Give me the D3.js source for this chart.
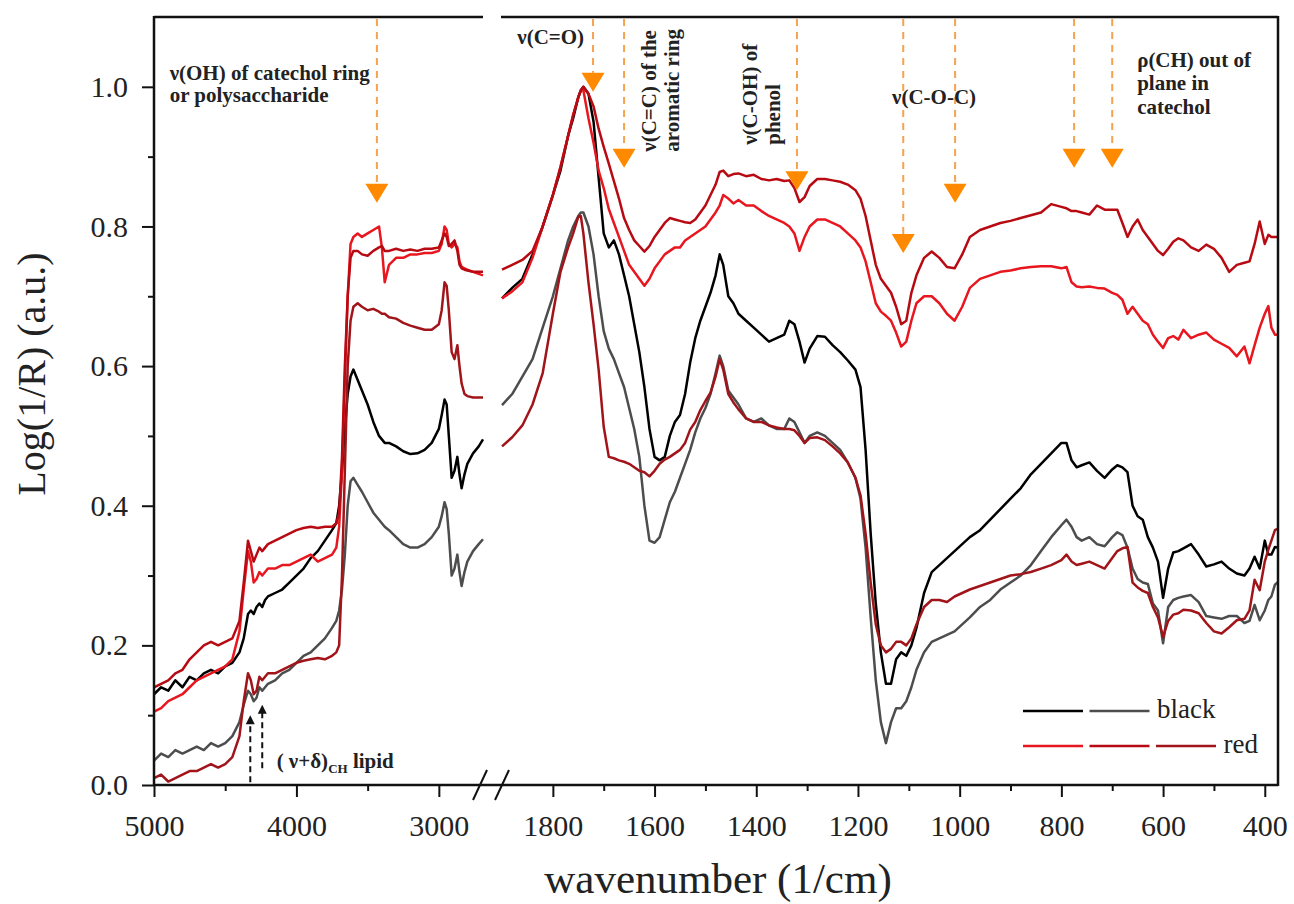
<!DOCTYPE html>
<html>
<head>
<meta charset="utf-8">
<script src="https://cdn.jsdelivr.net/npm/d3@7/dist/d3.min.js"></script>
<style>
  body { margin: 0; background: #fff; }
  svg { display: block; }
</style>
</head>
<body>
<div id="my_dataviz"></div>
<script>
// wavenumber grids for the two halves of the broken x axis
var wnLeft = [5000, 4950, 4900, 4850, 4800, 4750, 4700, 4650, 4600, 4550,
  4500, 4450, 4400, 4370, 4340, 4320, 4300, 4280, 4260, 4240,
  4220, 4200, 4150, 4100, 4050, 4000, 3950, 3900, 3850, 3800,
  3750, 3720, 3700, 3680, 3660, 3640, 3620, 3600, 3570, 3540,
  3500, 3460, 3420, 3400, 3380, 3350, 3300, 3250, 3200, 3150,
  3100, 3050, 3000, 2980, 2960, 2945, 2930, 2910, 2890, 2870,
  2855, 2840, 2820, 2800, 2760, 2720, 2690];

var wnRight = [1900, 1880, 1860, 1840, 1820, 1800, 1785, 1770, 1760, 1750,
  1745, 1740, 1730, 1720, 1710, 1700, 1690, 1680, 1670, 1660,
  1650, 1640, 1630, 1620, 1610, 1600, 1590, 1580, 1570, 1560,
  1550, 1540, 1530, 1520, 1510, 1500, 1490, 1480, 1472, 1465,
  1455, 1445, 1435, 1420, 1405, 1390, 1375, 1360, 1345, 1335,
  1325, 1315, 1305, 1295, 1280, 1265, 1250, 1235, 1220, 1205,
  1195, 1185, 1175, 1165, 1155, 1145, 1135, 1125, 1115, 1105,
  1095, 1085, 1070, 1055, 1040, 1025, 1010, 995, 980, 960,
  940, 920, 900, 880, 860, 840, 820, 800, 790, 780,
  770, 760, 745, 730, 715, 700, 690, 680, 670, 660,
  650, 640, 630, 620, 610, 600, 590, 580, 570, 560,
  545, 530, 515, 500, 485, 470, 455, 440, 430, 420,
  410, 400, 393, 387, 380, 375];

// black samples
var black1Left = [0.13, 0.14, 0.135, 0.15, 0.14, 0.155, 0.15, 0.16, 0.165, 0.16,
  0.17, 0.175, 0.19, 0.21, 0.245, 0.25, 0.245, 0.255, 0.26, 0.255,
  0.265, 0.27, 0.275, 0.28, 0.29, 0.30, 0.31, 0.325, 0.335, 0.35,
  0.365, 0.375, 0.40, 0.45, 0.51, 0.56, 0.585, 0.595, 0.58, 0.565,
  0.545, 0.52, 0.50, 0.495, 0.49, 0.49, 0.485, 0.478, 0.474, 0.475,
  0.48, 0.49, 0.51, 0.53, 0.552, 0.545, 0.50, 0.44, 0.45, 0.47,
  0.445, 0.425, 0.445, 0.46, 0.475, 0.485, 0.495];
var black1Right = [0.697, 0.712, 0.725, 0.76, 0.80, 0.845, 0.88, 0.93, 0.955, 0.985,
  0.995, 1.0, 0.99, 0.95, 0.87, 0.79, 0.77, 0.78, 0.76, 0.73,
  0.70, 0.66, 0.62, 0.57, 0.51, 0.47, 0.465, 0.47, 0.50, 0.52,
  0.53, 0.56, 0.605, 0.64, 0.665, 0.685, 0.705, 0.73, 0.76, 0.745,
  0.70, 0.69, 0.675, 0.665, 0.655, 0.645, 0.635, 0.64, 0.645, 0.665,
  0.66, 0.635, 0.605, 0.625, 0.643, 0.642, 0.63, 0.62, 0.608, 0.595,
  0.57, 0.48, 0.36, 0.26, 0.19, 0.145, 0.145, 0.18, 0.19, 0.185,
  0.20, 0.225, 0.275, 0.305, 0.315, 0.325, 0.335, 0.345, 0.355, 0.365,
  0.38, 0.395, 0.41, 0.425, 0.445, 0.46, 0.475, 0.49, 0.49, 0.465,
  0.455, 0.458, 0.462, 0.45, 0.44, 0.452, 0.458, 0.455, 0.448, 0.40,
  0.385, 0.38, 0.355, 0.34, 0.32, 0.268, 0.31, 0.333, 0.335, 0.339,
  0.345, 0.33, 0.313, 0.316, 0.32, 0.31, 0.303, 0.30, 0.31, 0.327,
  0.31, 0.35, 0.33, 0.33, 0.341, 0.34];

var black2Left = [0.035, 0.045, 0.04, 0.05, 0.045, 0.05, 0.055, 0.05, 0.06, 0.055,
  0.06, 0.07, 0.09, 0.115, 0.135, 0.13, 0.12, 0.125, 0.14, 0.135,
  0.14, 0.145, 0.15, 0.16, 0.165, 0.175, 0.185, 0.19, 0.20, 0.21,
  0.225, 0.235, 0.25, 0.28, 0.33, 0.40, 0.435, 0.44, 0.43, 0.42,
  0.405, 0.39, 0.38, 0.375, 0.37, 0.365, 0.355, 0.345, 0.34, 0.34,
  0.345, 0.355, 0.37, 0.385, 0.405, 0.395, 0.36, 0.30, 0.31, 0.33,
  0.305, 0.285, 0.305, 0.32, 0.335, 0.345, 0.352];
var black2Right = [0.544, 0.56, 0.585, 0.61, 0.655, 0.70, 0.74, 0.78, 0.80, 0.815,
  0.82, 0.82, 0.80, 0.76, 0.70, 0.65, 0.625, 0.61, 0.59, 0.57,
  0.54, 0.51, 0.47, 0.40, 0.35, 0.347, 0.355, 0.38, 0.405, 0.42,
  0.44, 0.46, 0.48, 0.505, 0.525, 0.54, 0.56, 0.59, 0.615, 0.60,
  0.565, 0.555, 0.545, 0.525, 0.52, 0.525, 0.515, 0.51, 0.51, 0.525,
  0.52, 0.505, 0.49, 0.50, 0.505, 0.50, 0.49, 0.48, 0.462, 0.44,
  0.41, 0.34, 0.24, 0.15, 0.09, 0.06, 0.09, 0.11, 0.11, 0.12,
  0.14, 0.165, 0.19, 0.205, 0.21, 0.215, 0.22, 0.23, 0.24, 0.255,
  0.265, 0.28, 0.29, 0.30, 0.315, 0.335, 0.355, 0.372, 0.38, 0.37,
  0.355, 0.35, 0.355, 0.345, 0.342, 0.355, 0.362, 0.358, 0.34, 0.31,
  0.295, 0.29, 0.288, 0.26, 0.25, 0.203, 0.255, 0.265, 0.268, 0.27,
  0.272, 0.262, 0.242, 0.24, 0.238, 0.242, 0.242, 0.232, 0.235, 0.258,
  0.236, 0.25, 0.265, 0.27, 0.287, 0.29];

// red samples
var red1Left = [0.105, 0.11, 0.12, 0.125, 0.13, 0.14, 0.15, 0.155, 0.16, 0.165,
  0.17, 0.18, 0.22, 0.28, 0.335, 0.32, 0.29, 0.295, 0.305, 0.30,
  0.305, 0.31, 0.31, 0.315, 0.315, 0.32, 0.325, 0.33, 0.32, 0.325,
  0.33, 0.34, 0.37, 0.45, 0.58, 0.70, 0.775, 0.785, 0.79, 0.785,
  0.79, 0.795, 0.80, 0.77, 0.72, 0.745, 0.755, 0.755, 0.76, 0.76,
  0.762, 0.762, 0.765, 0.775, 0.80, 0.795, 0.775, 0.77, 0.775, 0.77,
  0.75, 0.742, 0.74, 0.738, 0.735, 0.732, 0.73];
var red1Right = [0.697, 0.707, 0.72, 0.755, 0.80, 0.845, 0.885, 0.93, 0.96, 0.985,
  0.995, 0.995, 0.955, 0.92, 0.88, 0.855, 0.825, 0.805, 0.785, 0.765,
  0.745, 0.735, 0.725, 0.715, 0.725, 0.74, 0.75, 0.76, 0.765, 0.77,
  0.77, 0.78, 0.785, 0.79, 0.795, 0.80, 0.81, 0.82, 0.83, 0.845,
  0.84, 0.833, 0.838, 0.83, 0.83, 0.822, 0.815, 0.81, 0.805, 0.80,
  0.79, 0.765, 0.785, 0.80, 0.81, 0.81, 0.805, 0.80, 0.79, 0.78,
  0.77, 0.75, 0.72, 0.69, 0.678, 0.672, 0.665, 0.648, 0.628, 0.635,
  0.665, 0.69, 0.70, 0.70, 0.69, 0.675, 0.665, 0.685, 0.712, 0.725,
  0.73, 0.735, 0.737, 0.74, 0.742, 0.743, 0.743, 0.74, 0.742, 0.72,
  0.714, 0.713, 0.714, 0.712, 0.711, 0.705, 0.702, 0.695, 0.675, 0.685,
  0.675, 0.665, 0.66, 0.645, 0.635, 0.626, 0.64, 0.643, 0.638, 0.652,
  0.64, 0.645, 0.648, 0.638, 0.632, 0.626, 0.614, 0.628, 0.604, 0.63,
  0.655, 0.675, 0.686, 0.655, 0.645, 0.645];

var red2Left = [0.14, 0.145, 0.15, 0.16, 0.165, 0.18, 0.19, 0.20, 0.205, 0.20,
  0.205, 0.21, 0.235, 0.29, 0.35, 0.335, 0.32, 0.33, 0.34, 0.335,
  0.34, 0.345, 0.35, 0.355, 0.36, 0.365, 0.368, 0.37, 0.368, 0.37,
  0.37, 0.375, 0.39, 0.47, 0.60, 0.70, 0.755, 0.765, 0.765, 0.76,
  0.758, 0.765, 0.77, 0.772, 0.765, 0.765, 0.768, 0.765, 0.767, 0.765,
  0.768, 0.768, 0.77, 0.78, 0.79, 0.785, 0.772, 0.775, 0.78, 0.765,
  0.745, 0.74, 0.738, 0.737, 0.735, 0.735, 0.735];
var red2Right = [0.738, 0.745, 0.752, 0.765, 0.80, 0.845, 0.885, 0.93, 0.96, 0.985,
  0.995, 1.0, 0.99, 0.972, 0.94, 0.914, 0.89, 0.865, 0.84, 0.812,
  0.795, 0.78, 0.772, 0.764, 0.772, 0.785, 0.795, 0.805, 0.812, 0.81,
  0.808, 0.806, 0.805, 0.81, 0.82, 0.83, 0.845, 0.86, 0.878, 0.88,
  0.872, 0.875, 0.876, 0.872, 0.874, 0.868, 0.866, 0.868, 0.865, 0.866,
  0.855, 0.835, 0.842, 0.858, 0.868, 0.868, 0.866, 0.864, 0.86, 0.852,
  0.84, 0.815, 0.78, 0.745, 0.725, 0.715, 0.705, 0.685, 0.66, 0.665,
  0.705, 0.73, 0.755, 0.764, 0.755, 0.742, 0.74, 0.76, 0.785, 0.795,
  0.80, 0.805, 0.808, 0.812, 0.816, 0.82, 0.832, 0.828, 0.826, 0.822,
  0.822, 0.82, 0.817, 0.83, 0.824, 0.824, 0.824, 0.805, 0.785, 0.80,
  0.81, 0.795, 0.785, 0.775, 0.765, 0.759, 0.768, 0.778, 0.783, 0.78,
  0.77, 0.765, 0.774, 0.768, 0.755, 0.735, 0.745, 0.748, 0.75, 0.775,
  0.807, 0.775, 0.788, 0.785, 0.785, 0.785];

var red3Left = [0.01, 0.015, 0.005, 0.01, 0.015, 0.02, 0.02, 0.025, 0.03, 0.025,
  0.03, 0.04, 0.07, 0.12, 0.16, 0.15, 0.13, 0.135, 0.155, 0.15,
  0.155, 0.16, 0.16, 0.165, 0.17, 0.175, 0.178, 0.18, 0.182, 0.18,
  0.185, 0.19, 0.20, 0.30, 0.45, 0.60, 0.665, 0.685, 0.69, 0.685,
  0.68, 0.682, 0.678, 0.675, 0.675, 0.67, 0.668, 0.662, 0.658, 0.655,
  0.652, 0.652, 0.66, 0.68, 0.72, 0.715, 0.68, 0.62, 0.61, 0.63,
  0.60, 0.575, 0.56, 0.557, 0.555, 0.555, 0.555];
var red3Right = [0.485, 0.498, 0.515, 0.545, 0.59, 0.675, 0.735, 0.77, 0.79, 0.814,
  0.815, 0.79, 0.72, 0.66, 0.595, 0.513, 0.47, 0.468, 0.465, 0.463,
  0.46, 0.455, 0.45, 0.448, 0.442, 0.45, 0.46, 0.466, 0.47, 0.475,
  0.48, 0.49, 0.509, 0.52, 0.537, 0.55, 0.562, 0.585, 0.61, 0.595,
  0.56, 0.548, 0.538, 0.525, 0.52, 0.52, 0.515, 0.512, 0.51, 0.51,
  0.508, 0.50, 0.49, 0.497, 0.498, 0.494, 0.485, 0.475, 0.462, 0.44,
  0.415, 0.36, 0.29, 0.23, 0.20, 0.19, 0.195, 0.205, 0.205, 0.20,
  0.21, 0.23, 0.255, 0.265, 0.265, 0.262, 0.27, 0.275, 0.28, 0.285,
  0.29, 0.295, 0.30, 0.302, 0.305, 0.31, 0.315, 0.322, 0.33, 0.32,
  0.315, 0.317, 0.32, 0.315, 0.31, 0.325, 0.335, 0.339, 0.341, 0.29,
  0.283, 0.278, 0.275, 0.255, 0.24, 0.212, 0.235, 0.244, 0.246, 0.251,
  0.25, 0.246, 0.232, 0.22, 0.217, 0.226, 0.236, 0.238, 0.25, 0.294,
  0.279, 0.32, 0.337, 0.35, 0.365, 0.367];

// tick values
var xTicksLeft = [5000, 4000, 3000];
var xMinorLeft = [4500, 3500];
var xTicksRight = [1800, 1600, 1400, 1200, 1000, 800, 600, 400];
var xMinorRight = [1700, 1500, 1300, 1100, 900, 700, 500];
var yTicks = [0, 0.2, 0.4, 0.6, 0.8, 1.0];
var yMinor = [0.1, 0.3, 0.5, 0.7, 0.9];

// orange band markers: wavenumber and tip height
var bandWn = [3435, 1721, 1660, 1320, 1111, 1009, 775, 700];
var bandTip = [0.834, 0.993, 0.884, 0.852, 0.762, 0.834, 0.884, 0.884];
// black lipid markers
var lipidWn = [4324, 4240];
var lipidTip = [0.10, 0.115];
var lipidBase = [0.004, 0.024];

// set the dimensions and margins of the graph
var W = 1294, H = 904;
var margin = {top: 17, right: 16, bottom: 119, left: 154};
var breakLeft = 483, breakRight = 501;
var plotRight = W - margin.right, plotBottom = H - margin.bottom;

var svg = d3.select("#my_dataviz")
  .append("svg")
    .attr("width", W)
    .attr("height", H);

var xL = d3.scaleLinear().domain([5000, 2690]).range([margin.left, breakLeft]);
var xR = d3.scaleLinear().domain([1902, 374]).range([breakRight, plotRight]);
var y = d3.scaleLinear().domain([0, 1.1]).range([plotBottom, margin.top]);
function xs(w) { return w > 2000 ? xL(w) : xR(w); }

var series = [
  {name: "black1", color: "#000000", left: black1Left, right: black1Right},
  {name: "black2", color: "#4d4d4d", left: black2Left, right: black2Right},
  {name: "red1", color: "#e8161e", left: red1Left, right: red1Right},
  {name: "red2", color: "#b80a12", left: red2Left, right: red2Right},
  {name: "red3", color: "#a0141a", left: red3Left, right: red3Right}
];

var serif = "'Liberation Serif', 'Times New Roman', serif";

// spectra, one path per half
var lineL = d3.line().x(function(d) { return xL(d[0]); }).y(function(d) { return y(d[1]); });
var lineR = d3.line().x(function(d) { return xR(d[0]); }).y(function(d) { return y(d[1]); });

var curves = svg.append("g").attr("class", "curves");
series.forEach(function(s) {
  var pl = wnLeft.map(function(w, i) { return [w, s.left[i]]; }).filter(function(p) { return p[1] != null; });
  var pr = wnRight.map(function(w, i) { return [w, s.right[i]]; }).filter(function(p) { return p[1] != null; });
  curves.append("path").datum(pl)
    .attr("d", lineL).attr("fill", "none").attr("stroke", s.color)
    .attr("stroke-width", 2.5).attr("stroke-linejoin", "round");
  curves.append("path").datum(pr)
    .attr("d", lineR).attr("fill", "none").attr("stroke", s.color)
    .attr("stroke-width", 2.5).attr("stroke-linejoin", "round");
});

// frame
var frame = svg.append("g").attr("stroke", "#111").attr("stroke-width", 2.5).attr("fill", "none");
frame.append("line").attr("x1", margin.left).attr("x2", margin.left).attr("y1", margin.top - 1).attr("y2", plotBottom + 1);
frame.append("line").attr("x1", plotRight).attr("x2", plotRight).attr("y1", margin.top - 1).attr("y2", plotBottom + 1);
frame.append("line").attr("x1", margin.left).attr("x2", plotRight).attr("y1", plotBottom).attr("y2", plotBottom);
frame.append("line").attr("x1", margin.left).attr("x2", breakLeft).attr("y1", margin.top).attr("y2", margin.top);
frame.append("line").attr("x1", breakRight).attr("x2", plotRight).attr("y1", margin.top).attr("y2", margin.top);

// break marks on bottom axis
[breakLeft - 3, breakRight + 1].forEach(function(cx) {
  frame.append("line")
    .attr("x1", cx - 7).attr("y1", plotBottom + 15)
    .attr("x2", cx + 7).attr("y2", plotBottom - 15)
    .attr("stroke-width", 2);
});

function styleAxis(g) {
  g.select(".domain").remove();
  g.selectAll(".tick line").attr("stroke", "#111").attr("stroke-width", 2);
  g.selectAll("text").attr("font-family", serif).attr("font-size", 30).attr("fill", "#222");
}

// X axes
svg.append("g").attr("transform", "translate(0," + plotBottom + ")")
  .call(d3.axisBottom(xL).tickValues(xTicksLeft).tickSize(12).tickPadding(18).tickFormat(d3.format("d")))
  .call(styleAxis);
svg.append("g").attr("transform", "translate(0," + plotBottom + ")")
  .call(d3.axisBottom(xL).tickValues(xMinorLeft).tickSize(6).tickFormat(""))
  .call(styleAxis);
svg.append("g").attr("transform", "translate(0," + plotBottom + ")")
  .call(d3.axisBottom(xR).tickValues(xTicksRight).tickSize(12).tickPadding(18).tickFormat(d3.format("d")))
  .call(styleAxis);
svg.append("g").attr("transform", "translate(0," + plotBottom + ")")
  .call(d3.axisBottom(xR).tickValues(xMinorRight).tickSize(6).tickFormat(""))
  .call(styleAxis);

// Y axis
svg.append("g").attr("transform", "translate(" + margin.left + ",0)")
  .call(d3.axisLeft(y).tickValues(yTicks).tickSize(12).tickPadding(14).tickFormat(d3.format(".1f")))
  .call(styleAxis);
svg.append("g").attr("transform", "translate(" + margin.left + ",0)")
  .call(d3.axisLeft(y).tickValues(yMinor).tickSize(6).tickFormat(""))
  .call(styleAxis);

// axis titles
svg.append("text")
  .attr("x", 718).attr("y", 893)
  .attr("text-anchor", "middle")
  .attr("font-family", serif).attr("font-size", 43).attr("fill", "#222")
  .text("wavenumber (1/cm)");

svg.append("text")
  .attr("transform", "translate(45," + 374 + ")rotate(-90)")
  .attr("text-anchor", "middle")
  .attr("font-family", serif).attr("font-size", 40).attr("fill", "#222")
  .text("Log(1/R) (a.u.)");

// orange band markers
var marks = svg.append("g").attr("class", "bands");
bandWn.forEach(function(w, i) {
  var cx = xs(w), tip = y(bandTip[i]);
  marks.append("line")
    .attr("x1", cx).attr("x2", cx)
    .attr("y1", margin.top + 2).attr("y2", tip - 19)
    .attr("stroke", "#f7a24e").attr("stroke-width", 2)
    .attr("stroke-dasharray", "7,6");
  marks.append("path")
    .attr("d", "M" + (cx - 11.5) + "," + (tip - 19) + "L" + (cx + 11.5) + "," + (tip - 19) + "L" + cx + "," + tip + "Z")
    .attr("fill", "#ff8a00");
});

// lipid markers
lipidWn.forEach(function(w, i) {
  var cx = xL(w), tip = y(lipidTip[i]);
  marks.append("line")
    .attr("x1", cx).attr("x2", cx)
    .attr("y1", y(lipidBase[i])).attr("y2", tip + 6)
    .attr("stroke", "#111").attr("stroke-width", 2)
    .attr("stroke-dasharray", "6,4");
  marks.append("path")
    .attr("d", "M" + (cx - 4.5) + "," + (tip + 9) + "L" + (cx + 4.5) + "," + (tip + 9) + "L" + cx + "," + tip + "Z")
    .attr("fill", "#111");
});

// annotation texts
var ann = svg.append("g")
  .attr("font-family", serif).attr("font-size", 21)
  .attr("font-weight", "bold").attr("fill", "#222");

function addLines(w, v, lines, dy) {
  lines.forEach(function(t, i) {
    ann.append("text").attr("x", xs(w)).attr("y", y(v) + i * dy).text(t);
  });
}
addLines(4890, 1.01, ["\u03bd(OH) of catechol ring", "or polysaccharide"], 22);
addLines(1870, 1.062, ["\u03bd(C=O)"], 0);
addLines(1133, 0.976, ["\u03bd(C-O-C)"], 0);
addLines(651, 1.029, ["\u03c1(CH) out of", "plane in", "catechol"], 23.5);

function addVertical(w, v, lines) {
  lines.forEach(function(t, i) {
    ann.append("text")
      .attr("transform", "translate(" + (xs(w) + i * 23) + "," + y(v) + ")rotate(-90)")
      .text(t);
  });
}
addVertical(1598, 0.907, ["\u03bd(C=C) of the", "aromatic ring"]);
addVertical(1398, 0.917, ["\u03bd(C-OH) of", "phenol"]);

var lip = ann.append("text").attr("x", xL(4139)).attr("y", y(0.024));
lip.append("tspan").text("( \u03bd+\u03b4)");
lip.append("tspan").attr("font-size", 13).attr("dy", 5).text("CH");
lip.append("tspan").attr("dy", -5).text(" lipid");

// legend
var legend = svg.append("g").attr("class", "legend");
var legRows = [
  {label: "black", colors: [series[0].color, series[1].color], ly: 711},
  {label: "red", colors: [series[2].color, series[3].color, series[4].color], ly: 746}
];
legRows.forEach(function(r) {
  r.colors.forEach(function(c, j) {
    legend.append("line")
      .attr("x1", 1023 + j * 66.5).attr("x2", 1083 + j * 66.5)
      .attr("y1", r.ly).attr("y2", r.ly)
      .attr("stroke", c).attr("stroke-width", 2.6);
  });
  legend.append("text")
    .attr("x", 1023 + r.colors.length * 66.5 + 1).attr("y", r.ly + 7)
    .attr("font-family", serif).attr("font-size", 27).attr("fill", "#222")
    .text(r.label);
});
</script>
</body>
</html>
